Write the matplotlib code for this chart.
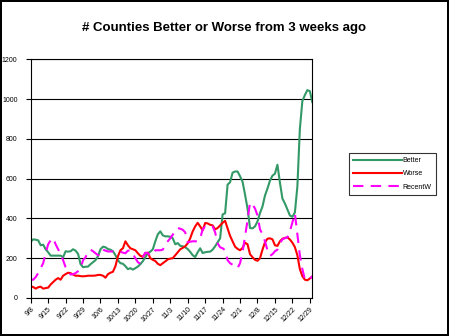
import matplotlib.pyplot as plt
import numpy as np

plt.rcParams['font.family'] = ['Liberation Sans', 'DejaVu Sans']

# daily values, 9/8 .. 12/30
better = [283, 295, 293, 290, 265, 268, 245, 230, 213, 213,
          213, 213, 213, 205, 235, 233, 235, 245, 238, 222,
          170, 155, 157, 158, 170, 180, 190, 210, 245, 258,
          255, 246, 243, 235, 215, 190, 175, 172, 160, 145,
          150, 143, 150, 158, 170, 185, 205, 225, 233, 245,
          285, 320, 335, 315, 310, 310, 308, 300, 270, 276,
          262, 260, 255, 246, 232, 215, 206, 230, 250, 226,
          230, 232, 233, 243, 260, 280, 300, 420, 426, 570,
          582, 630, 636, 636, 612, 585, 520, 450, 352, 350,
          360, 385, 427, 460, 515, 550, 590, 615, 625, 670,
          580, 500, 475, 445, 415, 408, 430, 560, 850, 990,
          1020, 1045, 1040, 985]
worse = [59, 55, 47, 54, 57, 47, 50, 52, 68, 80,
         92, 100, 92, 112, 120, 127, 125, 118, 112, 112,
         110, 109, 110, 112, 112, 112, 113, 116, 116, 112,
         102, 120, 127, 132, 160, 210, 240, 250, 285, 265,
         250, 245, 240, 225, 212, 207, 225, 228, 200, 192,
         186, 172, 165, 175, 184, 194, 198, 200, 215, 230,
         245, 252, 260, 275, 300, 335, 360, 378, 360, 340,
         377, 375, 368, 365, 345, 352, 365, 378, 388, 350,
         312, 285, 258, 247, 240, 252, 278, 270, 220, 205,
         192, 187, 200, 243, 280, 298, 300, 295, 265, 262,
         285, 298, 302, 305, 294, 278, 256, 215, 145, 110,
         92, 89, 98, 108]
recent_w = [92, 92, 105, 125, 150, 175, 225, 270, 290, 301,
            270, 245, 222, 190, 155, 135, 118, 120, 125, 135,
            150, 190, 205, 230, 243, 235, 225, 215, 215, 243,
            238, 234, 234, 234, 234, 234, 232, 228, 225, 238,
            240, 222, 200, 180, 172, 205, 228, 225, 212, 225,
            240, 240, 240, 243, 268, 285, 300, 318, 340, 352,
            348, 343, 330, 280, 283, 285, 285, 285, 300, 345,
            358, 352, 355, 360, 330, 275, 255, 250, 240, 190,
            175, 167, 160, 150, 175, 230, 310, 390, 480, 470,
            450, 415, 345, 320, 285, 240, 212, 220, 235, 243,
            275, 295, 301, 305, 335, 380, 425, 320, 215, 145,
            95, 92, 95, 110]

tick_labels = ['9/8', '9/15', '9/22', '9/29', '10/6', '10/13', '10/20',
               '10/27', '11/3', '11/10', '11/17', '11/24', '12/1', '12/8',
               '12/15', '12/22', '12/29']

days = np.arange(len(better))

fig = plt.figure(figsize=(4.49, 3.36), dpi=100, linewidth=1.5, edgecolor='black')
ax = fig.add_axes([0.0684, 0.1131, 0.6272, 0.7104])

ax.plot(days, better, color='#339966', lw=1.5, label='Better')
ax.plot(days, worse, color='#ff0000', lw=1.5, label='Worse')
ax.plot(days, recent_w, color='#ff00ff', lw=1.5, dashes=(5, 3.5), label='RecentW')

ax.set_xlim(0, len(better) - 1)
ax.set_ylim(0, 1200)
ax.set_yticks(range(0, 1201, 200))
ax.set_xticks(np.arange(0, 7 * len(tick_labels), 7))
ax.set_xticklabels(tick_labels, rotation=45, ha='right', rotation_mode='anchor')
ax.tick_params(labelsize=5, length=3.5, width=0.8)
ax.tick_params(axis='y', pad=6)
ax.tick_params(axis='x', pad=2)
ax.yaxis.grid(True, color='black', lw=0.8)
ax.set_axisbelow(True)
for s in ax.spines.values():
    s.set_linewidth(0.8)

fig.text(0.5, 0.916, '# Counties Better or Worse from 3 weeks ago',
         ha='center', va='center', fontsize=9.5, fontweight='bold')

leg = fig.legend(loc='upper left', bbox_to_anchor=(0.777, 0.545), fontsize=5,
                 handlelength=7, handletextpad=0.15, borderpad=0.6,
                 borderaxespad=0, labelspacing=0.9, frameon=True, fancybox=False)
leg.get_frame().set_edgecolor('black')
leg.get_frame().set_linewidth(0.8)

fig.savefig('out.png', dpi=100, edgecolor=fig.get_edgecolor())
